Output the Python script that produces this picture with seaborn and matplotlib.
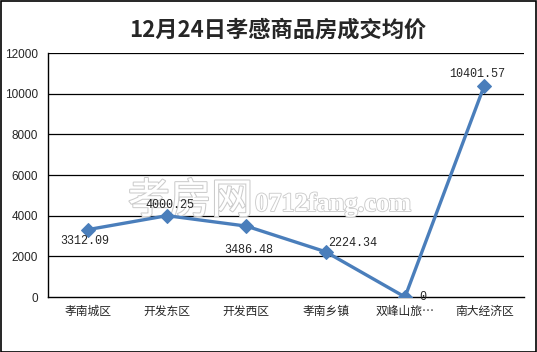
import matplotlib
matplotlib.use("Agg")
import matplotlib.pyplot as plt
import matplotlib.patheffects as pe
import seaborn as sns
import numpy as np

areas = ["孝南城区", "开发东区", "开发西区", "孝南乡镇", "双峰山旅…", "南大经济区"]
prices = [3312.09, 4000.25, 3486.48, 2224.34, 0, 10401.57]
price_labels = ["3312.09", "4000.25", "3486.48", "2224.34", "0", "10401.57"]
yticks = [0, 2000, 4000, 6000, 8000, 10000, 12000]

sns.set_style("white")
plt.rcParams['font.family'] = ['Noto Sans CJK SC', 'DejaVu Sans']

fig = plt.figure(figsize=(5.37, 3.52), dpi=100)
ax = fig.add_axes([48 / 537, 1 - 297 / 352, (524 - 48) / 537, (297 - 53) / 352])

# outer border of the figure
fig.patches.append(plt.Rectangle((0.001, 0.001), 0.997, 0.996, transform=fig.transFigure,
                                 fill=False, edgecolor='black', linewidth=1.2))

for y in yticks[1:]:
    ax.axhline(y, color='black', linewidth=0.9, zorder=0)

# watermark, kept under the line and labels
ax.text(128 / 537, 1 - 213 / 352, "孝房网", fontsize=30, color='white',
        transform=fig.transFigure,
        path_effects=[pe.withStroke(linewidth=1.5, foreground='#cccccc')], zorder=1)
ax.text(255 / 537, 1 - 211 / 352, "0712fang.com", fontsize=19, color='white',
        family='Liberation Serif', fontweight='bold', transform=fig.transFigure,
        path_effects=[pe.withStroke(linewidth=1.3, foreground='#cccccc')], zorder=1)

x = np.arange(len(areas))
sns.lineplot(x=x, y=prices, ax=ax, color='#4A7EBB', linewidth=2.4, marker='D',
             markersize=7, markeredgecolor='#4A7EBB', zorder=3)

offsets = [(-2, -8, 'center'), (2, 8, 'center'), (2, -17, 'center'),
           (1.5, 6, 'left'), (13, 0, 'center'), (-5, 8, 'center')]
for xi, yi, lab, (dx, dy, ha) in zip(x, prices, price_labels, offsets):
    ax.annotate(lab, (xi, yi), xytext=(dx, dy), textcoords='offset points',
                ha=ha, va='center', fontsize=8.5, family='Liberation Mono', zorder=4)

ax.set_xlim(-0.5, len(areas) - 0.5)
ax.set_ylim(0, 12000)
ax.set_yticks(yticks)
ax.set_yticklabels([str(v) for v in yticks], fontsize=8.5, family='Liberation Sans')
ax.set_xticks(x)
ax.set_xticklabels(areas, fontsize=8.5)
ax.set_xticks(np.arange(-0.5, len(areas)), minor=True)
ax.tick_params(axis='x', which='major', length=0, pad=6)
ax.tick_params(axis='x', which='minor', length=5, width=1, color='black', direction='out')
ax.tick_params(axis='y', length=5, width=1, color='black', direction='out', pad=2)

for s in ['top', 'right']:
    ax.spines[s].set_visible(False)
for s in ['left', 'bottom']:
    ax.spines[s].set_color('black')
    ax.spines[s].set_linewidth(1)

fig.text(0.517, 1 - 30 / 352, "12月24日孝感商品房成交均价", ha='center', va='center',
         fontsize=16, fontweight='bold')

fig.savefig("out.png", dpi=100)
